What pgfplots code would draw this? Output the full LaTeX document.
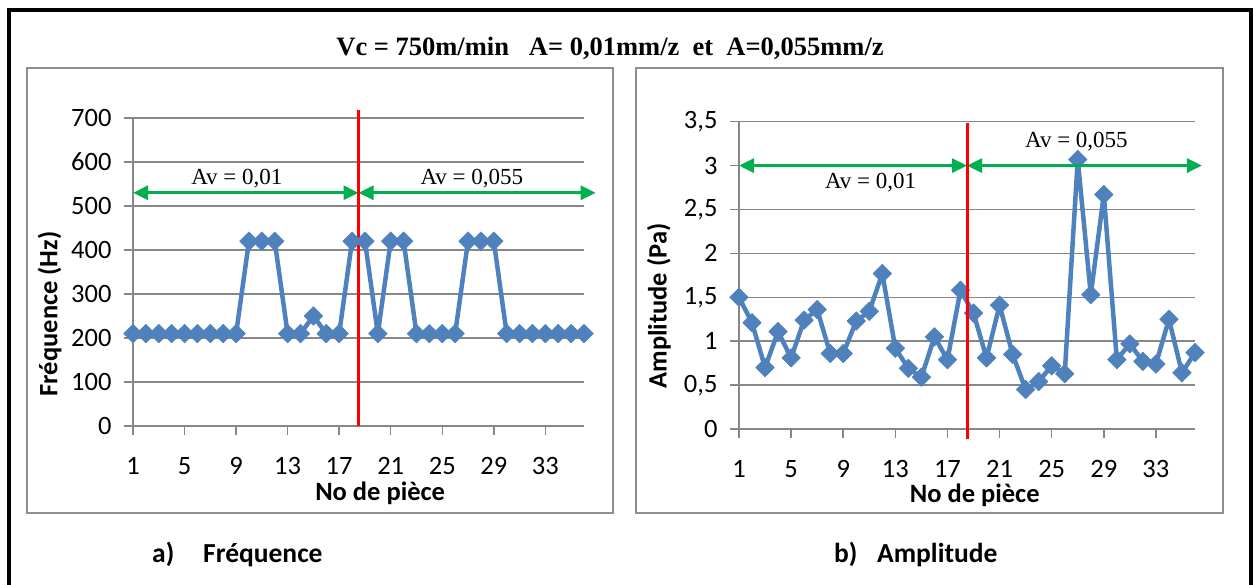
\documentclass[border=0pt]{standalone}
\usepackage{fontspec}
\setmainfont{Carlito}
\newfontfamily\timesfont{Liberation Serif}
\usepackage{pgfplots}
\usepackage{pgfplotstable}
\pgfplotsset{compat=1.18}
\usetikzlibrary{arrows.meta}

\definecolor{xlblue}{HTML}{4F81BD}
\definecolor{xlgreen}{HTML}{00B050}
\definecolor{gridgray}{HTML}{878787}
\definecolor{framegray}{HTML}{8E8E8E}

\pgfplotstableread{
x y
1 210
2 210
3 210
4 210
5 210
6 210
7 210
8 210
9 210
10 420
11 420
12 420
13 210
14 210
15 250
16 210
17 210
18 420
19 420
20 210
21 420
22 420
23 210
24 210
25 210
26 210
27 420
28 420
29 420
30 210
31 210
32 210
33 210
34 210
35 210
36 210
}\freqtable

\pgfplotstableread{
x y
1 1.50
2 1.21
3 0.70
4 1.11
5 0.81
6 1.24
7 1.36
8 0.86
9 0.86
10 1.23
11 1.34
12 1.77
13 0.92
14 0.69
15 0.59
16 1.05
17 0.79
18 1.58
19 1.32
20 0.81
21 1.41
22 0.85
23 0.45
24 0.54
25 0.72
26 0.63
27 3.07
28 1.53
29 2.67
30 0.79
31 0.97
32 0.77
33 0.74
34 1.25
35 0.64
36 0.87
37 1.10
}\amptable

\tikzset{
  greenarrow/.style={
    draw=xlgreen, line width=3pt,
    {Triangle[length=15pt,width=14pt,fill=xlgreen]}-{Triangle[length=15pt,width=14pt,fill=xlgreen]},
  },
}

\pgfplotsset{
  xlstyle/.style={
    scale only axis,
    xmin=1, xmax=36,
    axis x line*=bottom, axis y line*=left,
    axis line style={draw=gridgray, line width=1.5pt, -},
    ymajorgrids,
    major grid style={draw=gridgray, line width=1.5pt},
    xtick={1,5,...,33},
    tick align=outside, major tick length=9pt,
    tick style={draw=gridgray, line width=1.5pt},
    tick label style={font=\fontsize{26.5}{31}\selectfont},
    /pgf/number format/assume math mode=true,
    xticklabel style={yshift=-19pt},
    yticklabel style={xshift=-9pt},
    label style={font=\bfseries\fontsize{26.5}{31}\selectfont},
  },
  xlline/.style={
    color=xlblue, line width=4.5pt, line join=round,
    mark=square*, mark size=6.6pt,
    mark options={rotate=45, solid, line width=0.5pt, fill=xlblue, draw=xlblue},
  },
}

\begin{document}
\begin{tikzpicture}[x=1pt,y=1pt]
\path[use as bounding box] (0,0) rectangle (1256,584);
% outer frame
\draw[line width=4pt] (9,-2) -- (9,574) -- (1251,574) -- (1251,-2);
% panel frames
\draw[framegray, line width=2pt] (27,71) rectangle (613,516);
\draw[framegray, line width=2pt] (636,71) rectangle (1223,516);
% title
\node[anchor=base, font=\timesfont\bfseries\fontsize{26.5}{30}\selectfont]
  at (610,528) {Vc = 750m/min\ \ \ A= 0,01mm/z\ \ et\ \ A=0,055mm/z};
% captions
\node[anchor=base west, font=\bfseries\fontsize{27.5}{32}\selectfont, inner sep=0pt] at (152,22) {a)};
\node[anchor=base west, font=\bfseries\fontsize{27.5}{32}\selectfont, inner sep=0pt] at (203,22) {Fréquence};
\node[anchor=base west, font=\bfseries\fontsize{27.5}{32}\selectfont, inner sep=0pt] at (834,22) {b)};
\node[anchor=base west, font=\bfseries\fontsize{27.5}{32}\selectfont, inner sep=0pt] at (877,22) {Amplitude};

% left chart
\begin{axis}[xlstyle, clip=false,
  at={(133pt,158pt)}, anchor=south west,
  width=451pt, height=308pt,
  ymin=0, ymax=700, ytick={0,100,...,700},
  xlabel={No de pièce}, ylabel={Fréquence (Hz)},
  xlabel style={at={(axis description cs:0.548,0)}, anchor=center, yshift=-67pt},
  ylabel style={at={(axis description cs:-0.185,0.364)}, anchor=center},
]
\addplot[xlline] table[x=x, y=y] {\freqtable};
\draw[greenarrow] (axis cs:1,530) -- (axis cs:18.5,530);
\draw[greenarrow] (axis cs:18.5,530) -- (axis cs:36.9,530);
\node[anchor=base, font=\timesfont\fontsize{23}{27}\selectfont] at (axis cs:9.06,548) {Av = 0,01};
\node[anchor=base, font=\timesfont\fontsize{23}{27}\selectfont] at (axis cs:27.3,548) {Av = 0,055};
\draw[red, line width=3pt] (axis cs:18.5,0) -- (axis cs:18.5,718);
\end{axis}

% right chart
\begin{axis}[xlstyle, clip mode=individual,
  at={(739pt,155pt)}, anchor=south west,
  width=456pt, height=307.3pt,
  ymin=0, ymax=3.5, ytick={0,0.5,...,3.5},
  yticklabels={0,{0,5},1,{1,5},2,{2,5},3,{3,5}},
  xlabel={No de pièce}, ylabel={Amplitude (Pa)},
  xlabel style={at={(axis description cs:0.517,0)}, anchor=center, yshift=-66pt},
  ylabel style={at={(axis description cs:-0.176,0.40)}, anchor=center},
]
\addplot[xlline, mark indices={1,...,36}] table[x=x, y=y] {\amptable};
\draw[greenarrow] (axis cs:1,3) -- (axis cs:18.5,3);
\draw[greenarrow] (axis cs:18.5,3) -- (axis cs:36.53,3);
\node[anchor=base, font=\timesfont\fontsize{23}{27}\selectfont] at (axis cs:11.1,2.74) {Av = 0,01};
\node[anchor=base, font=\timesfont\fontsize{23}{27}\selectfont] at (axis cs:26.9,3.21) {Av = 0,055};
\draw[red, line width=3pt] (axis cs:18.5,-0.11) -- (axis cs:18.5,3.48);
\end{axis}
\end{tikzpicture}
\end{document}
